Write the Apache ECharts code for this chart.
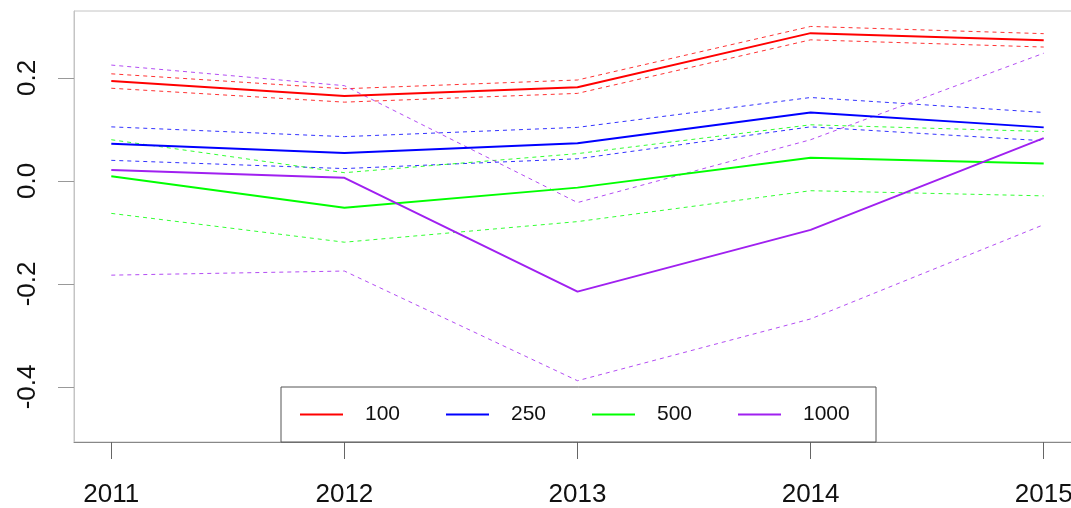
<!DOCTYPE html>
<html>
<head>
<meta charset="utf-8">
<script src="https://cdn.jsdelivr.net/npm/echarts@6/dist/echarts.min.js"></script>
<style>
html,body{margin:0;padding:0;background:#fff;overflow:hidden;}
#chart{width:1071px;height:508px;}
</style>
</head>
<body>
<div id="chart"></div>
<script>
// ---- data ----
const years = [2011, 2012, 2013, 2014, 2015];
const yTicks = [-0.4, -0.2, 0.0, 0.2];
const groupNames = ['100', '250', '500', '1000'];
const s100   = [0.194, 0.165, 0.182, 0.287, 0.273];
const s100Hi = [0.208, 0.179, 0.196, 0.300, 0.286];
const s100Lo = [0.180, 0.153, 0.170, 0.274, 0.260];
const s250   = [0.072, 0.054, 0.073, 0.133, 0.104];
const s250Hi = [0.105, 0.086, 0.104, 0.162, 0.133];
const s250Lo = [0.040, 0.024, 0.043, 0.105, 0.078];
const s500   = [0.009, -0.052, -0.013, 0.045, 0.034];
const s500Hi = [0.080, 0.016, 0.053, 0.109, 0.096];
const s500Lo = [-0.063, -0.119, -0.079, -0.019, -0.029];
const s1000   = [0.021, 0.006, -0.215, -0.095, 0.083];
const s1000Hi = [0.225, 0.185, -0.042, 0.080, 0.248];
const s1000Lo = [-0.183, -0.175, -0.388, -0.268, -0.085];

const colors = ['#ff0000', '#0000ff', '#00ff00', '#a020f0'];
const groups = [
  [s100, s100Hi, s100Lo],
  [s250, s250Hi, s250Lo],
  [s500, s500Hi, s500Lo],
  [s1000, s1000Hi, s1000Lo]
];

const pts = arr => years.map((y, i) => [y, arr[i]]);
const FONT = '"Liberation Sans", Arial, Helvetica, sans-serif';

const series = [];
groups.forEach((g, gi) => {
  ['hi', 'lo'].forEach((k, ki) => {
    series.push({
      name: groupNames[gi] + ' ' + k,
      type: 'line',
      data: pts(g[ki + 1]),
      symbol: 'none',
      silent: true,
      lineStyle: { color: colors[gi], width: 1, type: [4, 4], opacity: 0.8 },
      z: 2
    });
  });
});
groups.forEach((g, gi) => {
  series.push({
    name: groupNames[gi],
    type: 'line',
    data: pts(g[0]),
    symbol: 'none',
    itemStyle: { color: colors[gi] },
    lineStyle: { color: colors[gi], width: 2 },
    z: 3
  });
});

const chart = echarts.init(document.getElementById('chart'), null, { renderer: 'canvas' });
chart.setOption({
  animation: false,
  backgroundColor: '#fff',
  grid: {
    left: 74, top: 11, width: 1007, height: 431,
    outerBoundsMode: 'none',
    containLabel: false,
    show: true, borderColor: '#c4c4c4', borderWidth: 1, backgroundColor: '#fff'
  },
  legend: {
    data: groupNames,
    left: 281, top: 387,
    orient: 'horizontal',
    padding: [15, 13, 15, 19],
    itemGap: 21,
    itemWidth: 43,
    itemHeight: 2,
    icon: 'rect',
    borderColor: '#555',
    borderWidth: 1,
    backgroundColor: '#fff',
    textStyle: { fontSize: 21, fontFamily: FONT, color: '#111', width: 60, padding: [0, 0, 0, 17], lineHeight: 25 }
  },
  xAxis: {
    type: 'value',
    min: 2010.84, max: 2015.16,
    axisLine: { show: true, onZero: false, lineStyle: { color: '#888', width: 1 } },
    axisTick: { show: true, length: 17, customValues: years, lineStyle: { color: '#666' } },
    axisLabel: {
      customValues: years, margin: 40, fontSize: 26, fontFamily: FONT, color: '#111',
      formatter: v => String(v)
    },
    splitLine: { show: false }
  },
  yAxis: {
    type: 'value',
    min: -0.507, max: 0.330,
    axisLine: { show: true, onZero: false, lineStyle: { color: '#c4c4c4' } },
    axisTick: { show: true, length: 16, customValues: yTicks, lineStyle: { color: '#999' } },
    axisLabel: {
      customValues: yTicks, rotate: 90, margin: 33, fontSize: 26, fontFamily: FONT, color: '#111',
      formatter: v => Number(v).toFixed(1)
    },
    splitLine: { show: false }
  },
  series: series
});
</script>
</body>
</html>
